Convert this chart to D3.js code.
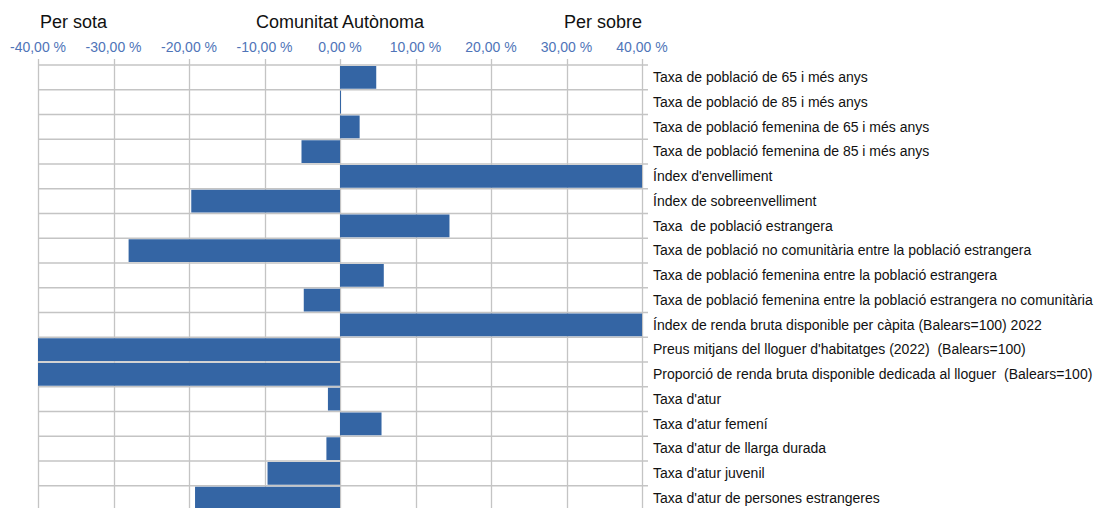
<!DOCTYPE html>
<html>
<head>
<meta charset="utf-8">
<script src="https://cdn.jsdelivr.net/npm/d3@7"></script>
<style>
  body { margin: 0; background: #fff; }
  svg text { font-family: "Liberation Sans", Arial, sans-serif; white-space: pre; }
</style>
</head>
<body>
<div id="chart"></div>
<script>
'use strict';

var categories = [
  "Taxa de població de 65 i més anys",
  "Taxa de població de 85 i més anys",
  "Taxa de població femenina de 65 i més anys",
  "Taxa de població femenina de 85 i més anys",
  "Índex d'envelliment",
  "Índex de sobreenvelliment",
  "Taxa  de població estrangera",
  "Taxa de població no comunitària entre la població estrangera",
  "Taxa de població femenina entre la població estrangera",
  "Taxa de població femenina entre la població estrangera no comunitària",
  "Índex de renda bruta disponible per càpita (Balears=100) 2022",
  "Preus mitjans del lloguer d'habitatges (2022)  (Balears=100)",
  "Proporció de renda bruta disponible dedicada al lloguer  (Balears=100)",
  "Taxa d'atur",
  "Taxa d'atur femení",
  "Taxa d'atur de llarga durada",
  "Taxa d'atur juvenil",
  "Taxa d'atur de persones estrangeres"
];

// diferència respecte de la Comunitat Autònoma (%)
var values = [4.8, 0.1, 2.6, -5.1, 40, -19.7, 14.5, -28.0, 5.8, -4.8,
              40, -40, -40, -1.6, 5.5, -1.8, -9.6, -19.2];

var ticks = [-40, -30, -20, -10, 0, 10, 20, 30, 40];
var headers = ["Per sota", "Comunitat Autònoma", "Per sobre"];

var width = 1100, height = 508;
var plotTop = 65, step = 24.75;

var svg = d3.select('#chart').append('svg')
    .attr('width', width)
    .attr('height', height);

var x = d3.scaleLinear()
  .domain([-40, 40])
  .range([38, 642]);

var y = d3.scaleBand()
  .domain(categories)
  .range([plotTop, plotTop + step * categories.length]);

var fmt = function(d) { return d3.format('.2f')(d).replace('.', ',').replace('−', '-') + ' %'; };

// headers
svg.append('text').attr('x', 40).attr('y', 28).attr('font-size', 18).attr('fill', '#111').text(headers[0]);
svg.append('text').attr('x', x(0)).attr('y', 28).attr('font-size', 18).attr('fill', '#111')
  .attr('text-anchor', 'middle').text(headers[1]);
svg.append('text').attr('x', x(40)).attr('y', 28).attr('font-size', 18).attr('fill', '#111')
  .attr('text-anchor', 'end').text(headers[2]);

// vertical grid
svg.append('g').attr('class', 'vgrid')
  .selectAll('line')
  .data(ticks)
  .enter().append('line')
  .attr('x1', function(d) { return Math.round(x(d)) + 0.5; })
  .attr('x2', function(d) { return Math.round(x(d)) + 0.5; })
  .attr('y1', 59)
  .attr('y2', height)
  .attr('stroke', '#c4c4c4')
  .attr('stroke-width', 1.3);

// horizontal grid (category boundaries)
var bounds = categories.map(function(c) { return y(c); });
svg.append('g').attr('class', 'hgrid')
  .selectAll('line')
  .data(bounds)
  .enter().append('line')
  .attr('x1', x(-40))
  .attr('x2', x(40) + 6)
  .attr('y1', function(d) { return d; })
  .attr('y2', function(d) { return d; })
  .attr('stroke', '#c4c4c4')
  .attr('stroke-width', 1.3);

// tick labels
svg.append('g').attr('class', 'ticks')
  .selectAll('text')
  .data(ticks)
  .enter().append('text')
  .attr('x', function(d) { return x(d); })
  .attr('y', 52)
  .attr('text-anchor', 'middle')
  .attr('font-size', 14)
  .attr('fill', '#4f74b8')
  .text(fmt);

// bars
svg.append('g').attr('class', 'bars')
  .selectAll('rect')
  .data(values)
  .enter().append('rect')
  .attr('x', function(d) { return x(Math.min(0, Math.max(-40, d))); })
  .attr('width', function(d) {
    var v = Math.max(-40, Math.min(40, d));
    return Math.max(1, Math.abs(x(v) - x(0)));
  })
  .attr('y', function(d, i) { return y(categories[i]) + 1; })
  .attr('height', y.bandwidth() - 2)
  .attr('fill', '#3465a4');

// category labels
svg.append('g').attr('class', 'labels')
  .selectAll('text')
  .data(categories)
  .enter().append('text')
  .attr('x', 653)
  .attr('y', function(d) { return y(d) + y.bandwidth() / 2; })
  .attr('dy', '0.34em')
  .attr('font-size', 14)
  .attr('fill', '#111')
  .text(function(d) { return d; });
</script>
</body>
</html>
